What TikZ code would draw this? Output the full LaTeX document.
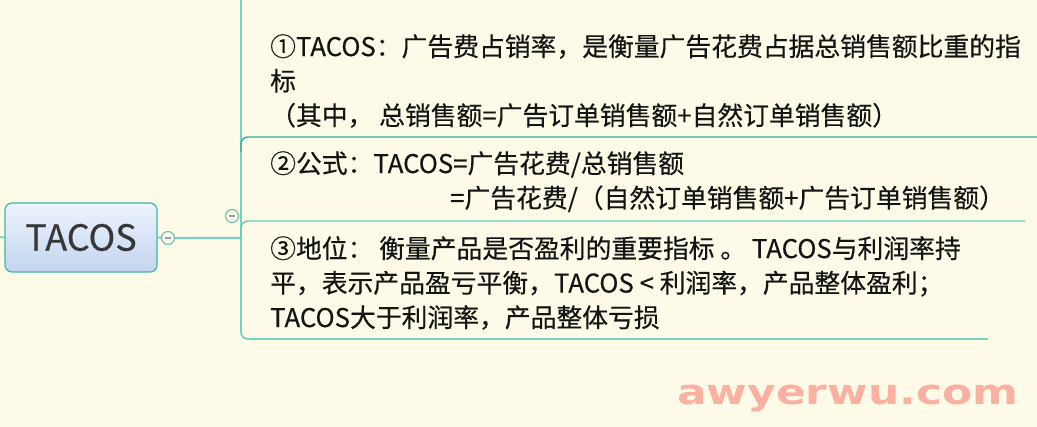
\documentclass[tikz,border=0pt]{standalone}
\usepackage{fontspec}
\setmainfont{Noto Sans CJK SC}[FakeBold=0.35]
\newfontfamily\markfont{DejaVu Sans}
\definecolor{bgcream}{HTML}{FDFBE7}
\definecolor{spine}{HTML}{72D3C0}
\definecolor{rule}{HTML}{32AB9C}
\definecolor{rootedge}{HTML}{3DB7A8}
\definecolor{roottop}{HTML}{EEF3FC}
\definecolor{rootbottom}{HTML}{C3D5F0}
\definecolor{foldgray}{HTML}{9C9EC8}
\definecolor{inkdark}{HTML}{141414}
\definecolor{salmon}{HTML}{FBB1A2}
\tikzset{
  rootbox/.style={draw=rootedge,line width=1.2pt,rounded corners=7pt,
    top color=roottop,bottom color=rootbottom,
    minimum width=152pt,minimum height=69pt,inner sep=0pt,
    font=\fontsize{36}{40}\selectfont,text=inkdark!85},
  fold/.style={circle,draw=spine!90!black,line width=1.1pt,fill=bgcream,
    minimum size=13pt,inner sep=0pt,
    path picture={\draw[foldgray,line width=1.2pt]
      ([xshift=3.5pt]path picture bounding box.west) --
      ([xshift=-3.5pt]path picture bounding box.east);}},
  topic/.style={anchor=north west,align=left,inner sep=0pt,text=inkdark,
    font=\fontsize{25.8}{34.5}\selectfont},
  branch/.style={draw=spine,line width=1.8pt},
  underline/.style={draw=rule,line width=1.4pt,rounded corners=7pt}
}
\begin{document}
\begin{tikzpicture}[x=1pt,y=-1pt]
  \fill[bgcream] (0,0) rectangle (1037,427);
  \useasboundingbox (0,0) rectangle (1037,427);

  % root topic
  \node[rootbox] (root) at (81,237.5) {TACOS};
  \coordinate (stub) at (0,237);
  \node[fold] (f1) at (168,238) {};
  \coordinate (joint) at (241,238);
  \draw[branch] (stub) -- (root.west);
  \draw[branch] (root.east) -- (f1) -- (joint);

  % spine and rules
  \coordinate (top) at (241,0);
  \coordinate (r1) at (1037,137);
  \coordinate (r2) at (1025,221);
  \coordinate (r3) at (988,339);
  \draw[branch,rounded corners=7pt] (top) |- (r3);
  \draw[underline] (241,152) |- (r1);
  \draw[underline,draw=spine!80!rule] (241,236) |- (r2);
  \node[fold] (f2) at (232,216) {};

  % subtopics
  \node[topic] (t1) at (270,34) {①TACOS：广告费占销率，是衡量广告花费占据总销售额比重的指\\
    标\\
    （其中， 总销售额=广告订单销售额+自然订单销售额）};
  \node[topic] (t2) at (270,151) {②公式：TACOS=广告花费/总销售额\\
    \hspace*{180pt}=广告花费/（自然订单销售额+广告订单销售额）};
  \node[topic] (t3) at (270,236) {③地位： 衡量产品是否盈利的重要指标 。 TACOS与利润率持\\
    平，表示产品盈亏平衡，TACOS < 利润率，产品整体盈利；\\
    TACOS大于利润率，产品整体亏损};

  % watermark
  \node[anchor=base west,inner sep=0pt,text=salmon] (mark) at (677,405)
    {\resizebox*{341pt}{27pt}{\markfont\bfseries awyerwu.com}};
\end{tikzpicture}
\end{document}
